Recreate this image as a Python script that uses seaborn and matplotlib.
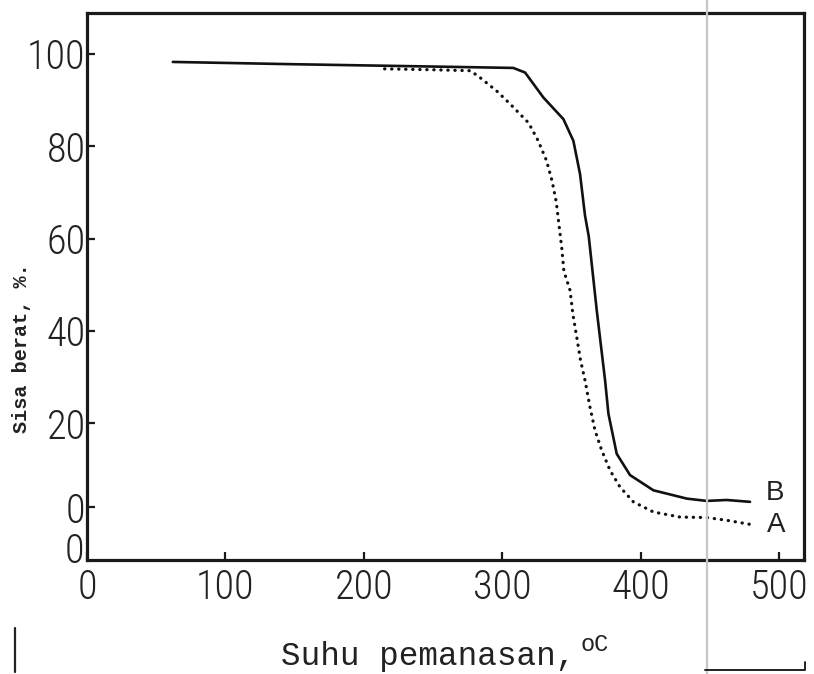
import matplotlib
matplotlib.use("Agg")
import matplotlib.pyplot as plt
import matplotlib.font_manager as fm
from matplotlib.lines import Line2D
import numpy as np
import pandas as pd
import seaborn as sns

# ---- data (temperature in degC, residue in %) ----
B_temp = [62, 150, 250, 308, 316.5, 329.7, 344.2, 351.4, 356.2, 359.8, 362.5,
          368.3, 374.3, 376.7, 382.7, 392.3, 409.2, 433.3, 447.7, 462.2, 479]
B_sisa = [98.3, 97.8, 97.3, 97.0, 96.0, 90.6, 85.9, 81.2, 74.0, 65.0, 60.5,
          44.4, 29.3, 22.1, 13.4, 8.8, 5.5, 3.7, 3.2, 3.4, 3.0]

A_temp = [215, 250, 277, 284, 296, 306, 319, 326, 332, 336, 339, 341, 343,
          344.5, 349, 351, 353.8, 356.6, 359.8, 363.4, 367, 371.8, 377.9,
          385.1, 394.7, 409.2, 428.5, 447.7, 462.2, 481.4]
A_sisa = [96.8, 96.6, 96.4, 94.9, 92.0, 89.1, 85.1, 81.2, 76.9, 72.5, 68.0,
          63.0, 58.0, 53.0, 48.8, 43.7, 38.7, 33.6, 29.3, 23.5, 18.5, 14.2,
          9.8, 6.2, 3.0, 0.8, -0.3, -0.4, -1.0, -2.0]

x_ticks = [0, 100, 200, 300, 400, 500]
x_tick_labels = ["0", "100", "200", "300", "400", "500"]
y_ticks = [100, 80, 60, 40, 20, 1.8]
y_tick_labels = ["100", "80", "60", "40", "20", "0"]
extra_y_label = ("0", -7.9)

labels = ["B", "A"]
label_pos = [(490.6, 5.0), (491.0, -2.0)]

x_label = "Suhu pemanasan,"
x_label_sup = "oC"
y_label = "Sisa berat, %."

# ---- style ----
sns.set_style("ticks")
plt.rcParams['font.family'] = ['Liberation Sans', 'DejaVu Sans']

# pick a narrow / light face for the hand-lettered numerals
def pick_tick_font():
    flist = fm.fontManager.ttflist
    for f in flist:
        if f.name == 'Liberation Sans Narrow' and f.weight in (400, 'normal', 'regular'):
            return fm.FontProperties(fname=f.fname), 30
    for f in flist:
        if f.name == 'DejaVu Sans' and str(f.stretch) in ('condensed', 'semi-condensed') \
                and f.weight in (200, 300, 'light', 'extra-light'):
            return fm.FontProperties(fname=f.fname), 29
    for f in flist:
        if f.name in ('Roboto Condensed', 'Open Sans Condensed') and f.weight in (300, 'light'):
            return fm.FontProperties(fname=f.fname), 29
    for nm in ('Roboto', 'Lato', 'Open Sans', 'Inter'):
        for f in flist:
            if f.name == nm and f.weight in (300, 'light', 200, 'extra-light') and f.style == 'normal':
                return fm.FontProperties(fname=f.fname), 26
    return fm.FontProperties(family='DejaVu Sans', weight='light'), 25

tick_fp, tick_size = pick_tick_font()
tick_fp.set_size(tick_size)

W, H = 814, 674
fig = plt.figure(figsize=(W / 100, H / 100), dpi=100)
fig.patch.set_facecolor("white")
left, right, top, bottom = 87, 804, 13, 560
ax = fig.add_axes([left / W, 1 - bottom / H, (right - left) / W, (bottom - top) / H])

dfB = pd.DataFrame({"temp": B_temp, "sisa": B_sisa})
dfA = pd.DataFrame({"temp": A_temp, "sisa": A_sisa})

sns.lineplot(data=dfB, x="temp", y="sisa", ax=ax, color="#111111", lw=1.9,
             sort=False, estimator=None)
sns.lineplot(data=dfA, x="temp", y="sisa", ax=ax, color="#111111", lw=2.3,
             linestyle=(0, (0.1, 2.1)), dash_capstyle="round",
             sort=False, estimator=None)

ax.set_xlim(0, 518)
ax.set_ylim(-9.6, 108.9)
ax.set_xticks(x_ticks)
ax.set_xticklabels(x_tick_labels, fontproperties=tick_fp, color="#222222")
ax.set_yticks(y_ticks)
ax.set_yticklabels(y_tick_labels, fontproperties=tick_fp, color="#222222")
ax.set_xlabel("")
ax.set_ylabel("")

for s in ax.spines.values():
    s.set_visible(True)
    s.set_linewidth(2.3)
    s.set_color("#1a1a1a")

ax.tick_params(axis="both", direction="in", length=6, width=1.6, colors="#1a1a1a")
ax.tick_params(axis="y", pad=1)
ax.tick_params(axis="x", pad=6)
for t in ax.get_xticklabels() + ax.get_yticklabels():
    t.set_color("#222222")

ax.text(-0.004, extra_y_label[1], extra_y_label[0], transform=ax.get_yaxis_transform(),
        ha="right", va="center", fontproperties=tick_fp, color="#222222")

for lab, (tx, ty) in zip(labels, label_pos):
    ax.text(tx, ty, lab, ha="left", va="center", fontsize=20, color="#222222")

mono = ['Liberation Mono', 'DejaVu Sans Mono']
fig.text(281 / W, 1 - 665 / H, x_label, family=mono, fontsize=23.5, ha="left",
         va="baseline", color="#222222")
fig.text(580 / W, 1 - 651 / H, x_label_sup, family=mono, fontsize=17, ha="left",
         va="baseline", color="#222222")
fig.text(22 / W, 1 - 348 / H, y_label, family=mono, fontsize=14.5, fontweight="bold",
         rotation=90, ha="center", va="center", color="#222222")

# scan artefacts
fig.add_artist(Line2D([707 / W, 707 / W], [0, 1], transform=fig.transFigure,
                      color="#c9c6c0", lw=1.6))
fig.add_artist(Line2D([15 / W, 15 / W], [1 - 628 / H, 1 - 672 / H], transform=fig.transFigure,
                      color="#222222", lw=1.6))
fig.add_artist(Line2D([705 / W, 805 / W, 805 / W], [1 - 670 / H, 1 - 670 / H, 1 - 662 / H],
                      transform=fig.transFigure, color="#222222", lw=1.4))

fig.savefig("out.png", dpi=100, facecolor="white")
